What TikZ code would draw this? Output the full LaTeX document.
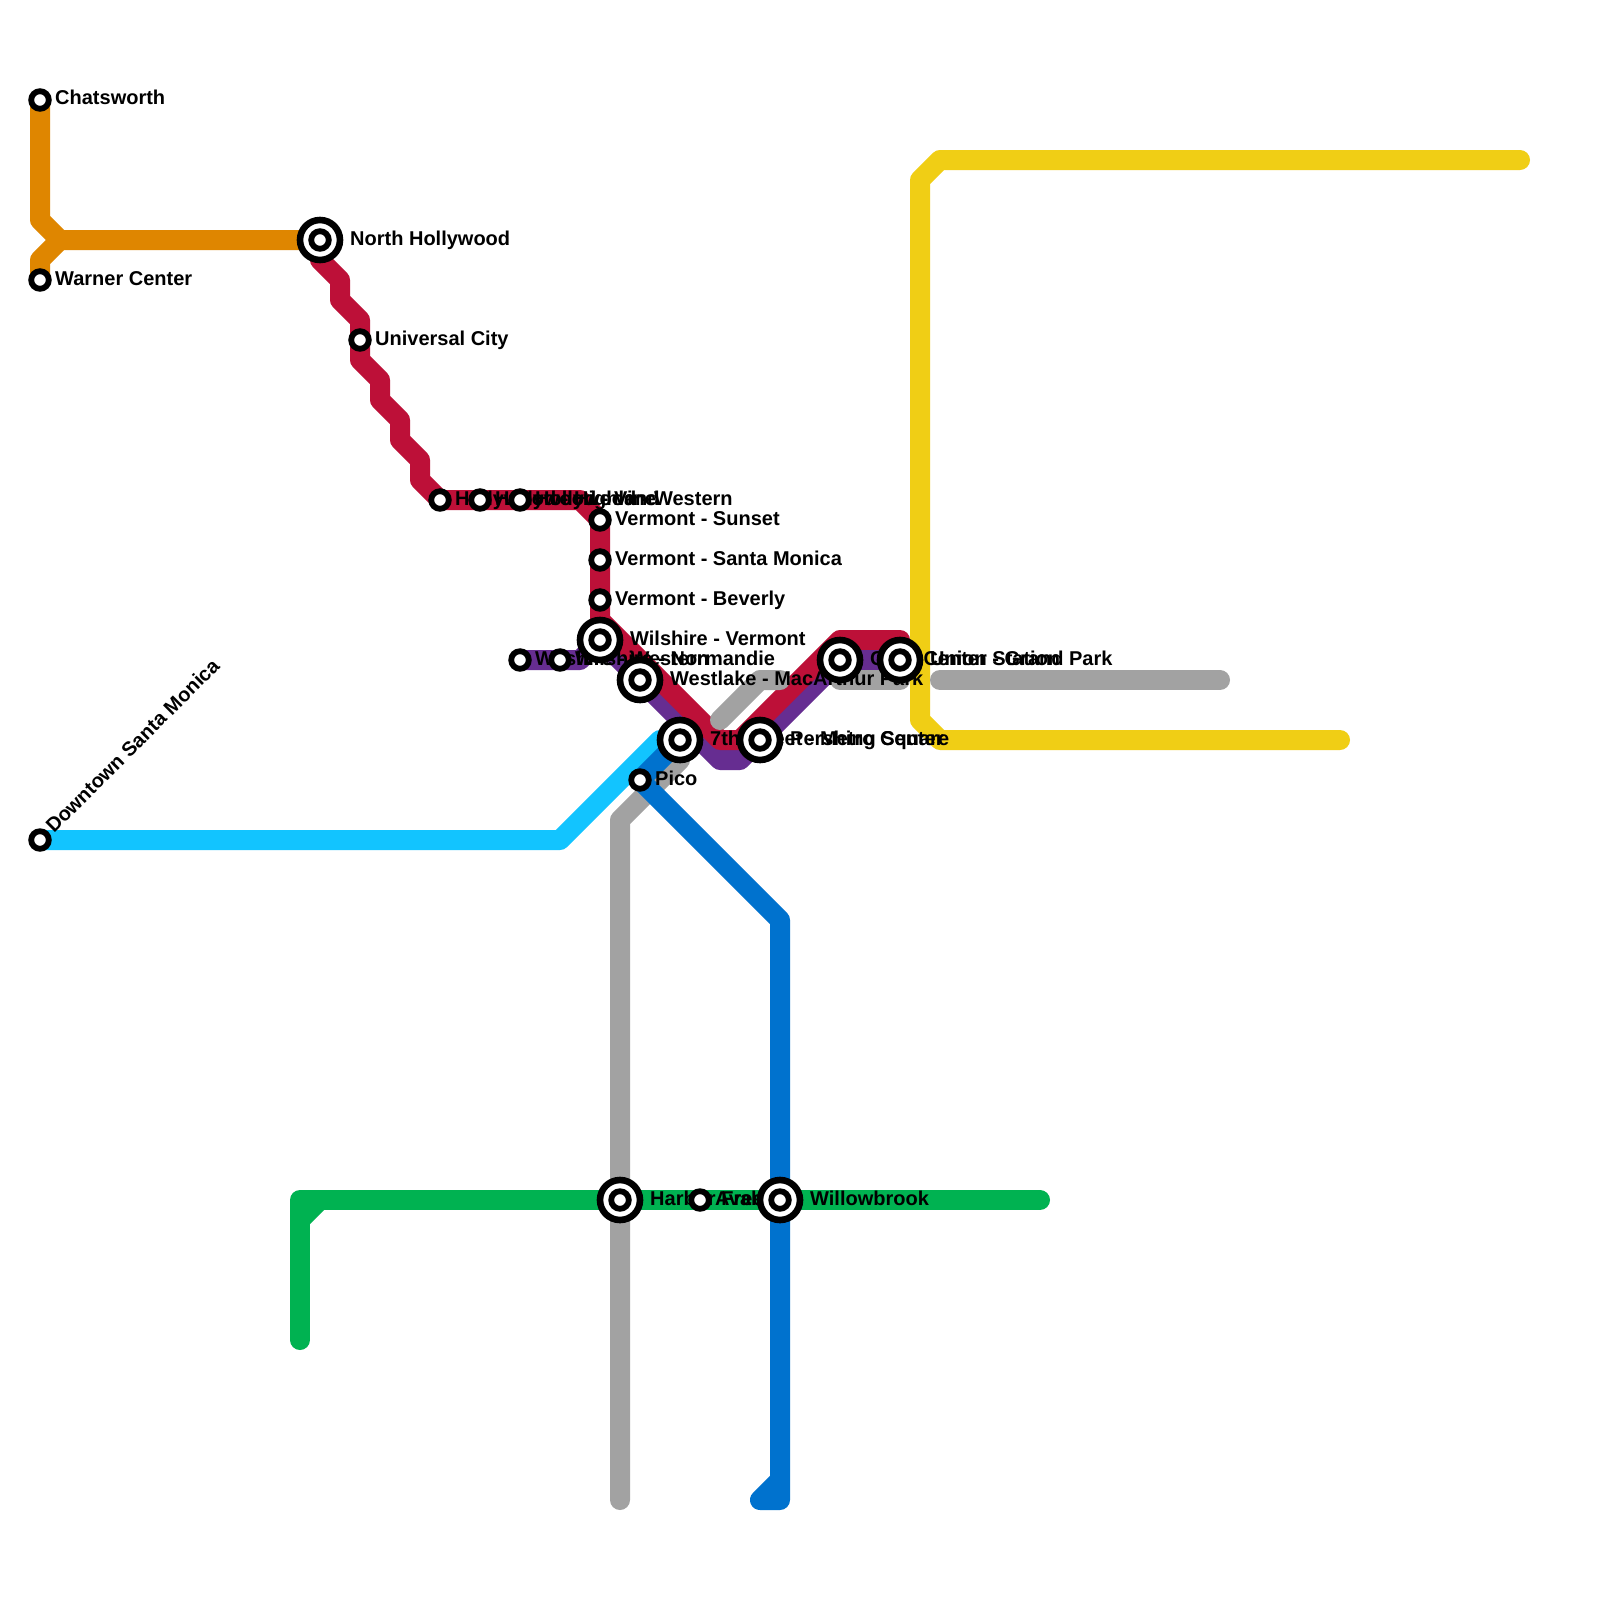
\documentclass[tikz,border=0pt]{standalone}
\usepackage{fontspec}
\setmainfont{Liberation Sans}
\definecolor{lorange}{HTML}{DF8600}
\definecolor{lred}{HTML}{BD1038}
\definecolor{lpurple}{HTML}{662D91}
\definecolor{lsky}{HTML}{12C4FF}
\definecolor{lblue}{HTML}{0072CE}
\definecolor{lgrey}{HTML}{A2A2A2}
\definecolor{lyellow}{HTML}{F0CE15}
\definecolor{lgreen}{HTML}{00B251}
\tikzset{
  metro/.style={line width=20pt,line cap=round,line join=round},
  lbl/.style={font=\fontsize{20}{24}\selectfont\bfseries,anchor=base west,inner sep=0pt,text=black},
  ringed/.style={draw=black,fill=white,line width=5.8pt},
  ringedbig/.style={draw=black,fill=white,line width=6.6pt},
}
\newcommand{\bigst}[1]{\path[ringedbig] (#1) circle (20pt); \path[ringed] (#1) circle (8.8pt);}
\newcommand{\smallst}[1]{\path[ringed] (#1) circle (8.8pt);}
\begin{document}
\begin{tikzpicture}[x=1pt,y=-1pt]
\useasboundingbox (0,0) rectangle (1600,1600);
\fill[white] (0,0) rectangle (1600,1600);
% positions
\coordinate (chat) at (40,100);
\coordinate (warner) at (40,280);
\coordinate (nho) at (320,240);
\coordinate (univ) at (360,340);
\coordinate (hh) at (440,500);
\coordinate (hv) at (480,500);
\coordinate (hw) at (520,500);
\coordinate (vs) at (600,520);
\coordinate (vsm) at (600,560);
\coordinate (vb) at (600,600);
\coordinate (wv) at (600,640);
\coordinate (ww) at (520,660);
\coordinate (wn) at (560,660);
\coordinate (wl) at (640,680);
\coordinate (metro) at (680,740);
\coordinate (pers) at (760,740);
\coordinate (civic) at (840,660);
\coordinate (union) at (900,660);
\coordinate (pico) at (640,780);
\coordinate (dsm) at (40,840);
\coordinate (harb) at (620,1200);
\coordinate (aval) at (700,1200);
\coordinate (will) at (780,1200);
% lines
\draw[metro,lyellow] (1520,160) -- (940,160) -- (920,180) -- (920,720) -- (940,740) -- (1340,740);
\draw[metro,lorange] (chat) -- (40,220) -- (60,240) -- (nho);
\draw[metro,lorange] (60,240) -- (40,260) -- (warner);
\draw[metro,lgreen] (300,1340) -- (300,1200) -- (1040,1200);
\draw[metro,lgreen] (300,1220) -- (320,1200);
\draw[metro,lgrey] (620,1500) -- (harb) -- (620,820) -- (680,760) -- (metro);
\draw[metro,lsky] (dsm) -- (560,840) -- (660,740) -- (metro);
\draw[metro,lblue] (metro) -- (pico) -- (780,920) -- (will) -- (780,1480) -- (760,1500) -- (780,1500) -- (780,1480);
\draw[metro,lpurple] (ww) -- (580,660) -- (wv) -- (720,760) -- (740,760) -- (civic) -- (union);
\draw[metro,lred] (nho) -- (320,260) -- (340,280) -- (340,300) -- (360,320) -- (univ) -- (360,360) -- (380,380) -- (380,400) -- (400,420) -- (400,440) -- (420,460) -- (420,480) -- (hh) -- (580,500) -- (vs) -- (600,620) -- (720,740) -- (740,740) -- (840,640) -- (900,640) -- (union);
\draw[metro,lgrey] (720,720) -- (760,680) -- (780,680);
\draw[metro,lgrey] (civic) -- (840,680) -- (900,680) -- (union);
\draw[metro,lgrey] (940,680) -- (1220,680);
\draw[metro,lpurple] (840,660) -- (900,660);
% labels
\node[lbl] (tchat) at ([shift={(15pt,-5pt)}]chat) {Chatsworth};
\node[lbl] (twarner) at ([shift={(15pt,-5pt)}]warner) {Warner Center};
\node[lbl] (tnho) at ([shift={(30pt,-5pt)}]nho) {North Hollywood};
\node[lbl] (tuniv) at ([shift={(15pt,-5pt)}]univ) {Universal City};
\node[lbl] (thh) at ([shift={(15pt,-5pt)}]hh) {Hollywood - Highland};
\node[lbl] (thv) at ([shift={(15pt,-5pt)}]hv) {Hollywood - Vine};
\node[lbl] (thw) at ([shift={(15pt,-5pt)}]hw) {Hollywood - Western};
\node[lbl] (tvs) at ([shift={(15pt,-5pt)}]vs) {Vermont - Sunset};
\node[lbl] (tvsm) at ([shift={(15pt,-5pt)}]vsm) {Vermont - Santa Monica};
\node[lbl] (tvb) at ([shift={(15pt,-5pt)}]vb) {Vermont - Beverly};
\node[lbl] (twv) at ([shift={(30pt,-5pt)}]wv) {Wilshire - Vermont};
\node[lbl] (tww) at ([shift={(15pt,-5pt)}]ww) {Wilshire - Western};
\node[lbl] (twn) at ([shift={(15pt,-5pt)}]wn) {Wilshire - Normandie};
\node[lbl] (twl) at ([shift={(30pt,-5pt)}]wl) {Westlake - MacArthur Park};
\node[lbl] (tmetro) at ([shift={(30pt,-5pt)}]metro) {7th Street - Metro Center};
\node[lbl] (tpers) at ([shift={(30pt,-5pt)}]pers) {Pershing Square};
\node[lbl] (tcivic) at ([shift={(30pt,-5pt)}]civic) {Civic Center - Grand Park};
\node[lbl] (tunion) at ([shift={(30pt,-5pt)}]union) {Union Station};
\node[lbl] (tpico) at ([shift={(15pt,-5pt)}]pico) {Pico};
\node[lbl] (tharb) at ([shift={(30pt,-5pt)}]harb) {Harbor Freeway};
\node[lbl] (taval) at ([shift={(15pt,-5pt)}]aval) {Avalon};
\node[lbl] (twill) at ([shift={(30pt,-5pt)}]will) {Willowbrook};
\node[lbl,rotate=45] (tdsm) at ([shift={(14pt,6pt)}]dsm) {Downtown Santa Monica};
% stations
\smallst{chat}
\smallst{warner}
\bigst{nho}
\smallst{univ}
\smallst{hh}
\smallst{hv}
\smallst{hw}
\smallst{vs}
\smallst{vsm}
\smallst{vb}
\bigst{wv}
\smallst{ww}
\smallst{wn}
\bigst{wl}
\bigst{metro}
\bigst{pers}
\bigst{civic}
\bigst{union}
\smallst{pico}
\smallst{dsm}
\bigst{harb}
\smallst{aval}
\bigst{will}
\end{tikzpicture}
\end{document}
